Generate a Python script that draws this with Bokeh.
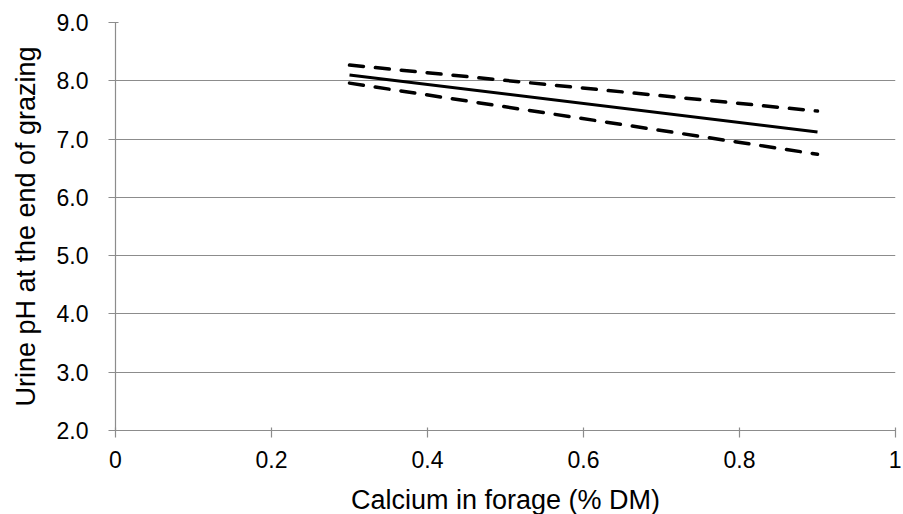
from bokeh.plotting import figure
from bokeh.models import FixedTicker, Range1d
from bokeh.embed import file_html
from bokeh.resources import INLINE

calcium = [0.3, 0.9]
fit_ph = [8.10, 7.12]
upper_ph = [8.27, 7.48]
lower_ph = [7.96, 6.74]
x_ticks = [0, 0.2, 0.4, 0.6, 0.8, 1.0]
y_ticks = [2, 3, 4, 5, 6, 7, 8, 9]

p = figure(frame_width=780, frame_height=408, output_backend="svg", toolbar_location=None,
           x_range=Range1d(0, 1), y_range=Range1d(2, 9),
           min_border_left=115, min_border_top=22, min_border_right=6, min_border_bottom=82)
p.outline_line_color = None
p.xgrid.visible = False
p.ygrid.grid_line_color = "#8c8c8c"
p.ygrid.grid_line_width = 1.2

FONT = "Liberation Sans"
p.xaxis.ticker = FixedTicker(ticks=x_ticks)
p.yaxis.ticker = FixedTicker(ticks=y_ticks)
p.xaxis.major_label_overrides = {0: "0", 0.2: "0.2", 0.4: "0.4", 0.6: "0.6", 0.8: "0.8", 1.0: "1"}
p.yaxis.major_label_overrides = {v: f"{v:.1f}" for v in y_ticks}
for ax in (p.xaxis, p.yaxis):
    ax.axis_line_color = "#8c8c8c"
    ax.axis_line_width = 1.2
    ax.major_tick_line_color = "#8c8c8c"
    ax.major_tick_line_width = 1.2
    ax.major_tick_out = 7
    ax.major_tick_in = 3
    ax.minor_tick_line_color = None
    ax.major_label_text_font = FONT
    ax.major_label_text_font_size = "23px"
    ax.major_label_text_color = "black"
    ax.axis_label_text_font = FONT
    ax.axis_label_text_font_size = "27px"
    ax.axis_label_text_font_style = "normal"
    ax.axis_label_text_color = "black"
p.xaxis.axis_label = "Calcium in forage (% DM)"
p.yaxis.axis_label = "Urine pH at the end of grazing"
p.xaxis.major_label_standoff = 13
p.yaxis.major_label_standoff = 20
p.xaxis.axis_label_standoff = 14
p.yaxis.axis_label_standoff = 13

p.line(calcium, upper_ph, line_color="black", line_width=3.5, line_dash="14 12", line_cap="round")
p.line(calcium, lower_ph, line_color="black", line_width=3.5, line_dash="14 12", line_cap="round")
p.line(calcium, fit_ph, line_color="black", line_width=3)

open("out.html", "w").write(file_html(p, INLINE))
